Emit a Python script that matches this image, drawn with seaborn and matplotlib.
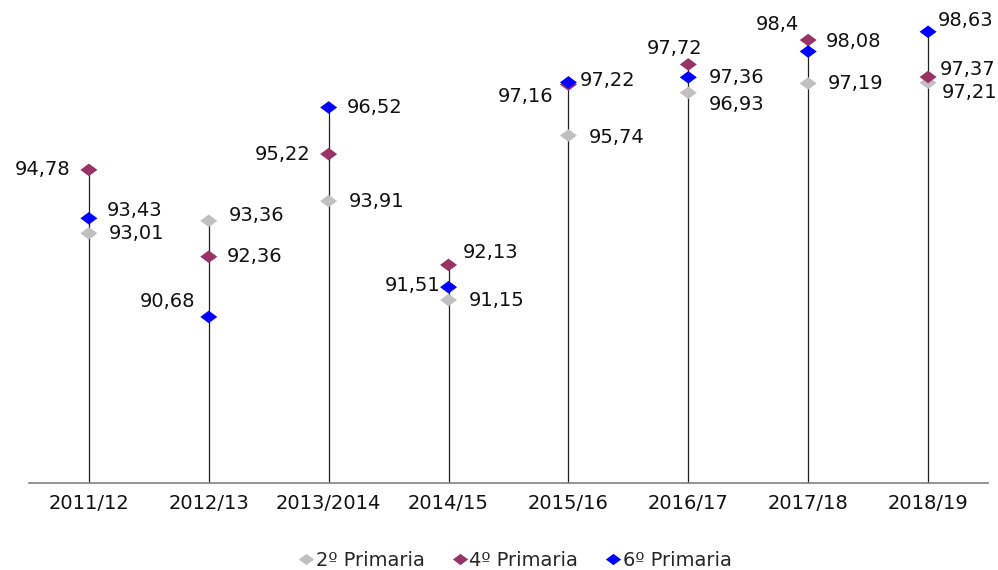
import numpy as np
import pandas as pd
import seaborn as sns
import matplotlib.pyplot as plt
from matplotlib.path import Path
from matplotlib.lines import Line2D

# data
cursos = ['2011/12', '2012/13', '2013/2014', '2014/15', '2015/16', '2016/17', '2017/18', '2018/19']
primaria_2 = [93.01, 93.36, 93.91, 91.15, 95.74, 96.93, 97.19, 97.21]
primaria_4 = [94.78, 92.36, 95.22, 92.13, 97.16, 97.72, 98.40, 97.37]
primaria_6 = [93.43, 90.68, 96.52, 91.51, 97.22, 97.36, 98.08, 98.63]
series = ['2º Primaria', '4º Primaria', '6º Primaria']

colors = {'2º Primaria': '#C0C0C0', '4º Primaria': '#993366', '6º Primaria': '#0000FF'}

# label offsets in pixels (dx, dy, ha) per series
offsets = {
    '2º Primaria': [(20, 0, 'left'), (20, 5, 'left'), (20, 0, 'left'), (20, 0, 'left'),
                    (20, -2, 'left'), (20, -12, 'left'), (20, 0, 'left'), (14, -10, 'left')],
    '4º Primaria': [(-19, 0, 'right'), (18, 0, 'left'), (-18, 0, 'right'), (14, 12, 'left'),
                    (-15, -12, 'right'), (-14, 16, 'center'), (-31, 16, 'center'), (12, 7, 'left')],
    '6º Primaria': [(18, 8, 'left'), (-14, 15, 'right'), (18, 0, 'left'), (-8, 2, 'right'),
                    (11, 2, 'left'), (20, 0, 'left'), (18, 10, 'left'), (10, 11, 'left')],
}

df = pd.DataFrame({
    'curso': cursos * 3,
    'serie': [s for s in series for _ in cursos],
    'valor': primaria_2 + primaria_4 + primaria_6,
})

sns.set_style('white')
plt.rcParams['font.family'] = ['DejaVu Sans']

fig = plt.figure(figsize=(9.98, 5.70), dpi=100)
ax = fig.add_axes([0.029, 0.1526, 0.961, 0.830])

diamond = Path([(-1.35, 0), (0, 1), (1.35, 0), (0, -1), (-1.35, 0)],
               [Path.MOVETO, Path.LINETO, Path.LINETO, Path.LINETO, Path.CLOSEPOLY])

# vertical drop lines from baseline to the top value of each year
ymin = 86.05
tops = df.groupby('curso', sort=False)['valor'].max()
ax.vlines(range(len(cursos)), ymin, tops.values, color='#202020', lw=0.9, zorder=1)

sns.scatterplot(data=df, x='curso', y='valor', hue='serie', palette=colors,
                marker=diamond, s=150, linewidth=0, legend=False, ax=ax, zorder=3)

for s in series:
    sub = df[df['serie'] == s].reset_index(drop=True)
    for i, row in sub.iterrows():
        dx, dy, ha = offsets[s][i]
        txt = f"{row['valor']:g}".replace('.', ',')
        ax.annotate(txt, (i, row['valor']), xytext=(dx, dy), textcoords='offset pixels',
                    ha=ha, va='center', fontsize=14, color='#111111')

ax.set_xlim(-0.5, len(cursos) - 0.5)
ax.set_ylim(ymin, 99.24)
ax.set_yticks([])
ax.set_xlabel('')
ax.set_ylabel('')
for side in ['top', 'right', 'left']:
    ax.spines[side].set_visible(False)
ax.spines['bottom'].set_color('#808080')
ax.spines['bottom'].set_linewidth(1.2)
ax.tick_params(axis='x', length=0, pad=8, labelsize=14, labelcolor='#111111')

handles = [Line2D([0], [0], marker=diamond, color='none', markerfacecolor=colors[s],
                  markeredgecolor='none', markersize=11, label=s) for s in series]
fig.legend(handles=handles, loc='lower center', bbox_to_anchor=(0.515, -0.03), ncol=3,
           frameon=False, fontsize=14, handletextpad=0.0, columnspacing=1.3,
           handlelength=1.0)

fig.savefig('out.png', dpi=100)
